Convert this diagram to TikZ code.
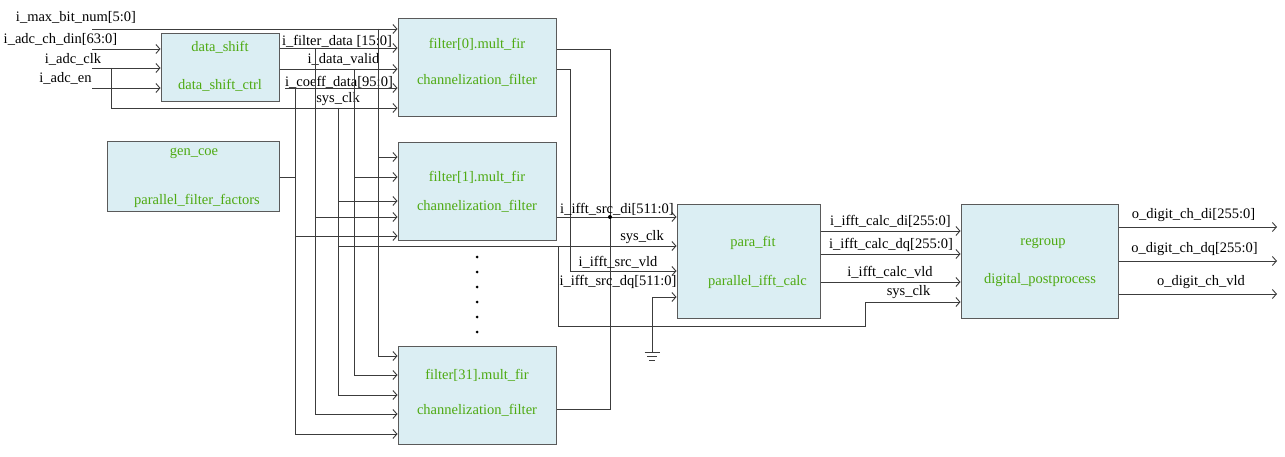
\documentclass[tikz,border=0pt]{standalone}
\usepackage{fontspec}
\setmainfont{Liberation Serif}
\usetikzlibrary{calc}
\usetikzlibrary{arrows.meta}
\usepackage{xcolor}

\definecolor{boxfill}{RGB}{219,238,243}
\definecolor{boxline}{RGB}{90,90,90}
\definecolor{wirec}{RGB}{60,60,60}
\definecolor{modgreen}{RGB}{78,170,18}

\begin{document}
\begin{tikzpicture}[x=1pt, y=-1pt,
  blk/.style={draw=boxline, fill=boxfill, line width=1pt, inner sep=0},
  mtxt/.style={text=modgreen, font=\fontsize{14.5}{17}\selectfont, inner sep=0},
  sig/.style={font=\fontsize{14.5}{17}\selectfont, inner sep=0},
  wire/.style={draw=wirec, line width=.9pt},
  pin/.style={wire, -{Straight Barb[length=4pt,width=9pt]}}]
\useasboundingbox (0,0) rectangle (1285,457);

\node[blk, minimum width=118pt, minimum height=68pt] (ds) at (220,68) {};
\node[blk, minimum width=158pt, minimum height=98pt] (f0) at (477,68) {};
\node[blk, minimum width=172pt, minimum height=70pt] (gc) at (193,177) {};
\node[blk, minimum width=158pt, minimum height=98pt] (f1) at (477,192) {};
\node[blk, minimum width=158pt, minimum height=98pt] (f31) at (477,395) {};
\node[blk, minimum width=143pt, minimum height=113pt] (pf) at (748.5,261.5) {};
\node[blk, minimum width=157pt, minimum height=113pt] (rg) at (1039.5,261.5) {};

\node[mtxt] (t1) at (220,47.5) {data\_shift};
\node[mtxt] (t2) at (220,85.5) {data\_shift\_ctrl};
\node[mtxt] (t3) at (477,44) {filter[0].mult\_fir};
\node[mtxt] (t4) at (477,80) {channelization\_filter};
\node[mtxt] (t5) at (194,153) {gen\_coe};
\node[mtxt] (t6) at (197,200.5) {parallel\_filter\_factors};
\node[mtxt] (t7) at (477,177.5) {filter[1].mult\_fir};
\node[mtxt] (t8) at (477,206) {channelization\_filter};
\node[mtxt] (t9) at (477,375) {filter[31].mult\_fir};
\node[mtxt] (t10) at (477,410.5) {channelization\_filter};
\node[mtxt] (t11) at (753,243.3) {para\_fit};
\node[mtxt] (t12) at (757.5,282) {parallel\_ifft\_calc};
\node[mtxt] (t13) at (1043,243) {regroup};
\node[mtxt] (t14) at (1040,280.5) {digital\_postprocess};

% inputs
\coordinate (i1) at (92,29);
\coordinate (i2) at (92,49);
\coordinate (i3) at (92,68);
\coordinate (i4) at (92,88);
\draw[pin] (i1) -- (i1 -| f0.west);
\draw[pin] (i2) -- (i2 -| ds.west);
\draw[pin] (i3) -- (i3 -| ds.west);
\draw[pin] (i4) -- (i4 -| ds.west);
\coordinate (k1) at (111,68);
\coordinate (k2) at (111,108);
\draw[pin] (k1) -- (k2) -- (k2 -| f0.west);

\node[sig] (l1) at (76,17) {i\_max\_bit\_num[5:0]};
\node[sig] (l2) at (60.5,39) {i\_adc\_ch\_din[63:0]};
\node[sig] (l3) at (73,59) {i\_adc\_clk};
\node[sig] (l4) at (65.5,78) {i\_adc\_en};

\coordinate (b1) at (295,88);
\coordinate (b2) at (315,48);
\coordinate (b3) at (338,108);
\coordinate (b4) at (354,69);
\coordinate (b5) at (378,29);

\draw[pin] (ds.east |- b2) -- (f0.west |- b2);
\draw[pin] (ds.east |- b4) -- (f0.west |- b4);
\draw[pin] ($(b1)+(-10,0)$) -- (b1 -| f0.west);
\draw[wire] (gc.east) -- (gc.east -| b1);

\node[sig] (l5) at (337,41.5) {i\_filter\_data [15:0]};
\node[sig] (l6) at (343.5,59.5) {i\_data\_valid};
\node[sig] (l7) at (339,82) {i\_coeff\_data[95:0]};
\node[sig] (l8) at (338,99) {sys\_clk};

\draw[pin] (b5) |- (f1.west |- 0,157);
\draw[pin] (b4) |- (f1.west |- 0,177);
\draw[pin] (b3) |- (f1.west |- 0,201);
\draw[pin] (b2) |- (f1.west |- 0,217);
\draw[pin] (b1) |- (f1.west |- 0,236);

\draw[pin] (b5) |- (f31.west |- 0,356);
\draw[pin] (b4) |- (f31.west |- 0,375);
\draw[pin] (b3) |- (f31.west |- 0,395);
\draw[pin] (b2) |- (f31.west |- 0,414);
\draw[pin] (b1) |- (f31.west |- 0,434);

\fill (477,257) circle (1.5);
\fill (477,272) circle (1.5);
\fill (477,287) circle (1.5);
\fill (477,302) circle (1.5);
\fill (477,317) circle (1.5);
\fill (477,332) circle (1.5);

% filter outputs
\coordinate (j1) at (610,49);
\coordinate (j2) at (610,409);
\draw[wire] (f0.east |- j1) -- (j1) -- (j2) -- (j2 -| f31.east);
\draw[pin] (f1.east |- 0,217) -- (pf.west |- 0,217);
\node[circle, fill, inner sep=0, minimum size=4pt] (dt) at (610,217) {};

\coordinate (v1) at (570,69);
\coordinate (v2) at (570,271);
\draw[pin] (f0.east |- v1) -- (v1) -- (v2) -- (v2 -| pf.west);

\draw[pin] (b3) |- (pf.west |- 0,246);
\coordinate (s1) at (558,246);
\coordinate (s2) at (558,326);
\coordinate (s3) at (865,326);
\coordinate (s4) at (865,302);
\draw[pin] (s1) -- (s2) -- (s3) -- (s4) -- (s4 -| rg.west);

\coordinate (g1) at (652,352);
\draw[pin] (g1) |- (pf.west |- 0,297);
\draw[wire] ($(g1)+(-7.5,0)$) -- ($(g1)+(7.5,0)$);
\draw[wire] ($(g1)+(-5,4)$) -- ($(g1)+(5,4)$);
\draw[wire] ($(g1)+(-3,8)$) -- ($(g1)+(3,8)$);

\node[sig] (l9) at (617,209) {i\_ifft\_src\_di[511:0]};
\node[sig] (l10) at (642,237) {sys\_clk};
\node[sig] (l11) at (618,262) {i\_ifft\_src\_vld};
\node[sig] (l12) at (618,282) {i\_ifft\_src\_dq[511:0]};

% para_fit to regroup
\draw[pin] (pf.east |- 0,231) -- (rg.west |- 0,231);
\draw[pin] (pf.east |- 0,254) -- (rg.west |- 0,254);
\draw[pin] (pf.east |- 0,282) -- (rg.west |- 0,282);

\node[sig] (l13) at (890.5,221) {i\_ifft\_calc\_di[255:0]};
\node[sig] (l14) at (891,244.5) {i\_ifft\_calc\_dq[255:0]};
\node[sig] (l15) at (890,272) {i\_ifft\_calc\_vld};
\node[sig] (l16) at (908.5,292) {sys\_clk};

\coordinate (o1) at (1277,227);
\coordinate (o2) at (1277,261);
\coordinate (o3) at (1277,294);
\draw[pin] (rg.east |- o1) -- (o1);
\draw[pin] (rg.east |- o2) -- (o2);
\draw[pin] (rg.east |- o3) -- (o3);

\node[sig] (l17) at (1193.5,215) {o\_digit\_ch\_di[255:0]};
\node[sig] (l18) at (1194.5,249.5) {o\_digit\_ch\_dq[255:0]};
\node[sig] (l19) at (1201,282.5) {o\_digit\_ch\_vld};

\end{tikzpicture}
\end{document}
